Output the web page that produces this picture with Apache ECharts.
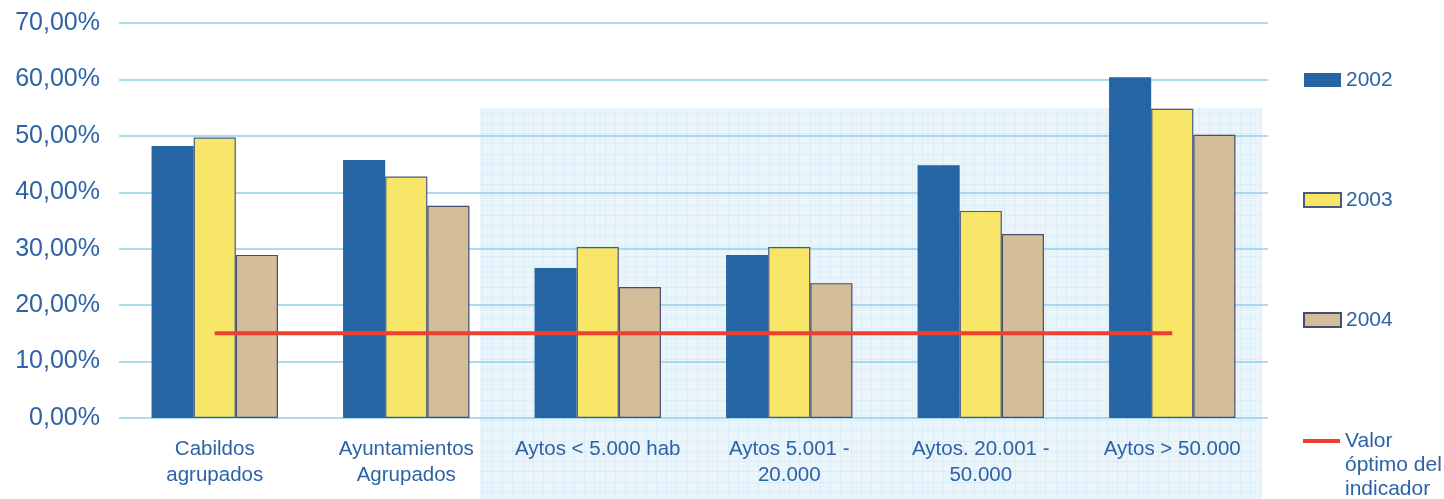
<!DOCTYPE html>
<html>
<head>
<meta charset="utf-8">
<script src="https://cdn.jsdelivr.net/npm/echarts@6/dist/echarts.min.js"></script>
<style>
html,body{margin:0;padding:0;background:#fff;}
#main{width:1444px;height:499px;}
</style>
</head>
<body>
<div id="main"></div>
<script>
const categories = ["Cabildos\nagrupados", "Ayuntamientos\nAgrupados", "Aytos < 5.000 hab", "Aytos 5.001 -\n20.000", "Aytos. 20.001 -\n50.000", "Aytos > 50.000"];
const values2002 = [48.2, 45.7, 26.6, 28.9, 44.8, 60.4];
const values2003 = [49.7, 42.8, 30.3, 30.3, 36.7, 54.8];
const values2004 = [28.9, 37.6, 23.2, 23.9, 32.6, 50.2];
const optimo = [15, 15, 15, 15, 15, 15];
const yTicks = { min: 0, max: 70, interval: 10 };

const textColor = '#2d63a6';
const font = '"Liberation Sans", Arial, sans-serif';

// background grid pattern
const pc = document.createElement('canvas');
pc.width = 41; pc.height = 41;
const pctx = pc.getContext('2d');
pctx.fillStyle = '#eaf5fb';
pctx.fillRect(0, 0, 41, 41);
pctx.fillStyle = '#dbeef7';
[0, 10, 20, 31].forEach(p => {
  pctx.fillRect(p, 0, 1, 41);
  pctx.fillRect(0, p, 41, 1);
});

const lineName = 'Valor\nóptimo del\nindicador';

const chart = echarts.init(document.getElementById('main'), null, { renderer: 'canvas' });
chart.setOption({
  animation: false,
  backgroundColor: '#ffffff',
  textStyle: { fontFamily: font },
  graphic: [{
    type: 'rect',
    z: -10,
    silent: true,
    shape: { x: 480, y: 108, width: 782, height: 391 },
    style: { fill: { image: pc, repeat: 'repeat' } }
  }],
  grid: { left: 119, right: 176, top: 23, bottom: 81, containLabel: false },
  legend: [{
    orient: 'vertical',
    left: 1303,
    top: 68,
    padding: 0,
    icon: 'rect',
    itemWidth: 37,
    itemHeight: 14,
    itemGap: 96,
    data: ['2002', '2003', '2004'],
    textStyle: { color: textColor, fontSize: 21, lineHeight: 24, fontFamily: font }
  }, {
    orient: 'vertical',
    left: 1303,
    top: 381,
    padding: 0,
    icon: 'rect',
    itemWidth: 37,
    itemHeight: 4,
    data: [lineName],
    formatter: name => '\n\n' + name,
    textStyle: { color: textColor, fontSize: 21, lineHeight: 24, fontFamily: font }
  }],
  xAxis: {
    type: 'category',
    data: categories,
    axisLine: { show: false },
    axisTick: { show: false },
    axisLabel: { interval: 0, color: textColor, fontSize: 20.5, lineHeight: 26, margin: 18, fontFamily: font }
  },
  yAxis: {
    type: 'value',
    min: yTicks.min,
    max: yTicks.max,
    interval: yTicks.interval,
    axisLine: { show: false },
    axisTick: { show: false },
    splitLine: { lineStyle: { color: '#8fcfe8', width: 1.5 } },
    axisLabel: {
      color: textColor, fontSize: 25, margin: 19, fontFamily: font,
      formatter: v => v.toFixed(2).replace('.', ',') + '%'
    }
  },
  series: [{
    name: '2002', type: 'bar', data: values2002,
    barGap: '0%', barCategoryGap: '34%',
    itemStyle: { color: '#2565a4' }
  }, {
    name: '2003', type: 'bar', data: values2003,
    barGap: '0%', barCategoryGap: '34%',
    itemStyle: { color: '#f7e668', borderColor: '#4a5a80', borderWidth: 1.2 }
  }, {
    name: '2004', type: 'bar', data: values2004,
    barGap: '0%', barCategoryGap: '34%',
    itemStyle: { color: '#d4bd99', borderColor: '#454d6e', borderWidth: 1.2 }
  }, {
    name: lineName, type: 'line', data: optimo,
    symbol: 'none', z: 5,
    lineStyle: { color: '#ef3f31', width: 4 },
    itemStyle: { color: '#ef3f31' }
  }]
});
</script>
</body>
</html>
